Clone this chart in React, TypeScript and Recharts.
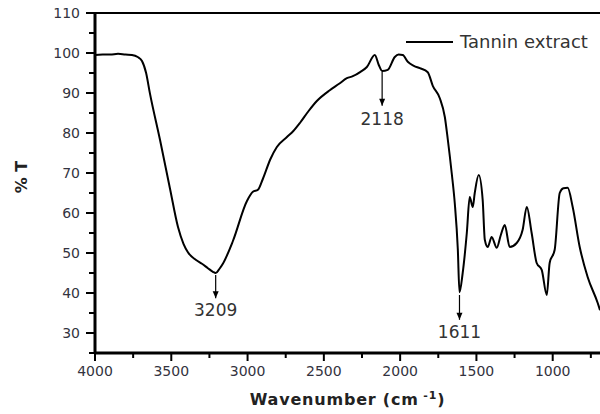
import React from "react";
import { Legend, Line, LineChart, ReferenceDot, ReferenceLine, XAxis, YAxis } from "recharts";

// FTIR spectrum of tannin extract
const wavenumbers = [
  4000, 3950, 3900, 3849, 3800, 3758, 3720, 3692, 3665, 3640, 3574, 3509, 3456, 3420, 3391, 3340,
  3299, 3260, 3227, 3209, 3185, 3162, 3096, 3004, 2965, 2932, 2900, 2850, 2808, 2742, 2700, 2657,
  2600, 2546, 2461, 2400, 2349, 2310, 2260, 2218, 2166, 2140, 2118, 2081, 2035, 2010, 1983, 1950,
  1910, 1871, 1819, 1786, 1740, 1707, 1688, 1662, 1642, 1622, 1611, 1590, 1563, 1544, 1524, 1511,
  1485, 1459, 1445, 1426, 1400, 1367, 1340, 1314, 1282, 1236, 1197, 1170, 1138, 1105, 1072, 1039,
  1020, 987, 954, 930, 902, 869, 823, 771, 705, 690,
];
const transmittance = [
  99.5, 99.6, 99.6, 99.8, 99.6, 99.5, 99.0, 98.0, 95.0, 89.9, 78.3, 66.2, 56.5, 52.3, 50.2, 48.3,
  47.3, 46.2, 45.3, 45.0, 46.0, 47.3, 53.0, 63.0, 65.3, 65.8, 68.5, 73.5, 76.5, 79.0, 80.5, 82.5,
  85.5, 88.0, 90.7, 92.3, 93.7, 94.2, 95.3, 96.5, 99.5, 97.0, 95.5, 95.8, 99.0, 99.6, 99.5, 97.8,
  96.8, 96.2, 95.2, 91.8, 88.7, 84.0, 78.5, 70.0, 62.5, 51.0, 40.2, 45.0, 55.0, 64.0, 61.5, 65.0,
  69.5, 63.3, 53.3, 51.5, 54.0, 51.3, 54.5, 57.0, 51.5, 52.5, 55.8, 61.5, 55.0, 47.5, 45.8, 39.5,
  47.5, 50.8, 65.0, 66.2, 66.3, 61.5, 51.5, 44.0, 37.5, 35.7,
];

const xTicks = [4000, 3750, 3500, 3250, 3000, 2750, 2500, 2250, 2000, 1750, 1500, 1250, 1000, 750];
const xMajor = [4000, 3500, 3000, 2500, 2000, 1500, 1000];
const yTicks = [25, 30, 35, 40, 45, 50, 55, 60, 65, 70, 75, 80, 85, 90, 95, 100, 105, 110];
const yMajor = [30, 40, 50, 60, 70, 80, 90, 100, 110];

const peakLabels = ["3209", "2118", "1611"];
const peakArrowTop = [44.5, 95.3, 39.5];
const peakArrowTip = [38.7, 86.8, 33.3];
const peakLabelY = [35.7, 83.6, 30.2];

const data = wavenumbers.map((wn, i) => ({ wn, t: transmittance[i] }));

const tickFont = "'DejaVu Sans', sans-serif";

function XTick(props: any) {
  const { x, y, payload } = props;
  const major = xMajor.includes(payload.value);
  return (
    <g>
      <line x1={x} y1={y} x2={x} y2={y + (major ? 8 : 5)} stroke="#000" strokeWidth={2} />
      {major && (
        <text x={x} y={y + 23} textAnchor="middle" fontFamily={tickFont} fontSize={14} fill="#333340">
          {payload.value}
        </text>
      )}
    </g>
  );
}

function YTick(props: any) {
  const { x, y, payload } = props;
  const major = yMajor.includes(payload.value);
  return (
    <g>
      <line x1={x} y1={y} x2={x - (major ? 9 : 6)} y2={y} stroke="#000" strokeWidth={2} />
      {major && (
        <text x={x - 15} y={y} dy="0.36em" textAnchor="end" fontFamily={tickFont} fontSize={14} fill="#333340">
          {payload.value}
        </text>
      )}
    </g>
  );
}

function XTitle(props: any) {
  const { viewBox } = props;
  const cx = viewBox.x + viewBox.width / 2;
  return (
    <text x={cx} y={viewBox.y + 52} textAnchor="middle" fontFamily={tickFont} fontWeight="bold" fontSize={16} letterSpacing={0.8} fill="#222">
      Wavenumber (cm
      <tspan fontSize={11} dy={-6}> -1</tspan>
      <tspan dy={6}>)</tspan>
    </text>
  );
}

function YTitle(props: any) {
  const { viewBox } = props;
  const cy = viewBox.y + viewBox.height / 2 - 6;
  return (
    <text x={21} y={cy} transform={`rotate(-90 21 ${cy})`} textAnchor="middle" dy="0.36em" fontFamily={tickFont} fontWeight="bold" fontSize={16} fill="#222">
      % T
    </text>
  );
}

function ArrowHead(props: any) {
  const { cx, cy } = props;
  return <path d={`M${cx - 3},${cy - 7}L${cx + 3},${cy - 7}L${cx},${cy}Z`} fill="#000" />;
}

function LegendBox(props: any) {
  const item = props.payload && props.payload[0];
  return (
    <div style={{ display: "flex", alignItems: "center", fontFamily: tickFont, fontSize: 18, color: "#333", whiteSpace: "nowrap" }}>
      <span style={{ display: "inline-block", width: 47, height: 2, background: "#000", marginRight: 7 }} />
      {item ? item.value : ""}
    </div>
  );
}

export default function App() {
  return (
    <div style={{ position: "absolute", left: 0, top: 0, width: 600, height: 414, background: "#fff" }}>
      <LineChart width={600} height={414} data={data} margin={{ top: 13, right: 0, bottom: 31, left: 0 }}>
        <XAxis
          dataKey="wn"
          type="number"
          domain={[690, 4000]}
          reversed
          ticks={xTicks}
          interval={0}
          tick={<XTick />}
          tickLine={false}
          tickSize={0}
          tickMargin={0}
          height={30}
          axisLine={{ stroke: "#000", strokeWidth: 3 }}
          label={<XTitle />}
        />
        <YAxis
          type="number"
          domain={[25, 110]}
          ticks={yTicks}
          interval={0}
          tick={<YTick />}
          tickLine={false}
          tickSize={0}
          tickMargin={0}
          width={95}
          axisLine={{ stroke: "#000", strokeWidth: 3 }}
          label={<YTitle />}
        />
        <ReferenceLine y={110} stroke="#000" strokeWidth={2} />
        <Line
          type="monotone"
          dataKey="t"
          name="Tannin extract"
          stroke="#000"
          strokeWidth={2}
          dot={false}
          isAnimationActive={false}
        />
        {peakLabels.map((lab, i) => (
          <ReferenceLine
            key={"s" + lab}
            segment={[
              { x: Number(lab), y: peakArrowTop[i] },
              { x: Number(lab), y: peakArrowTip[i] },
            ]}
            stroke="#000"
            strokeWidth={1.2}
          />
        ))}
        {peakLabels.map((lab, i) => (
          <ReferenceDot key={"h" + lab} x={Number(lab)} y={peakArrowTip[i]} r={0} shape={<ArrowHead />} />
        ))}
        {peakLabels.map((lab, i) => (
          <ReferenceDot
            key={"t" + lab}
            x={Number(lab)}
            y={peakLabelY[i]}
            r={0}
            fill="none"
            stroke="none"
            label={{ value: lab, position: "center", fontFamily: tickFont, fontSize: 17, fill: "#333" }}
          />
        ))}
        <Legend
          layout="vertical"
          align="center"
          verticalAlign="middle"
          content={<LegendBox />}
          wrapperStyle={{ left: 406, top: 31, width: "auto" }}
        />
      </LineChart>
    </div>
  );
}
